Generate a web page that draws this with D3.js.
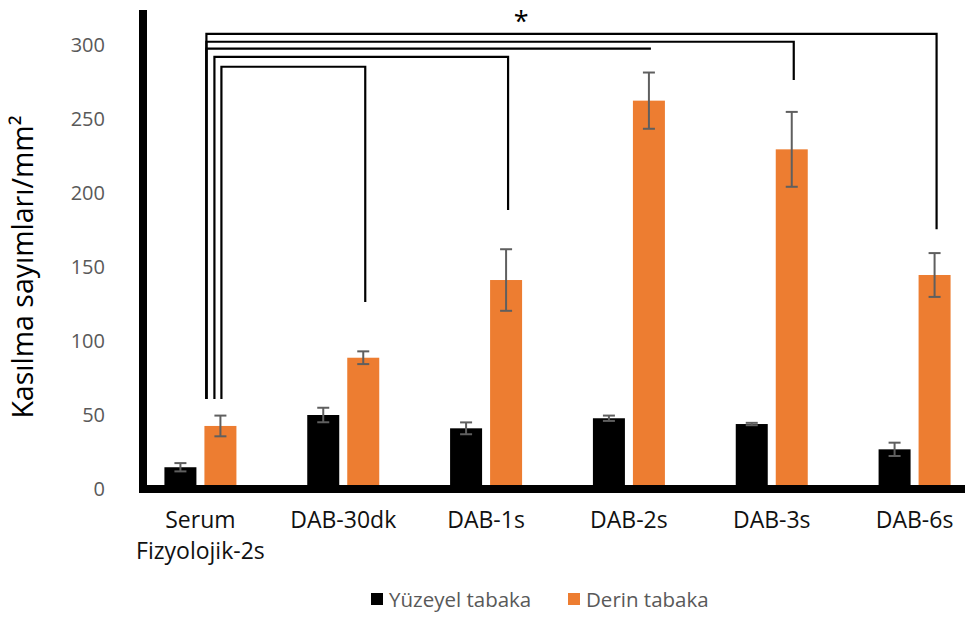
<!DOCTYPE html>
<html>
<head>
<meta charset="utf-8">
<script src="https://cdn.jsdelivr.net/npm/d3@7"></script>
<style>
  html, body { margin: 0; padding: 0; background: #fff; }
  svg { display: block; font-family: "Open Sans", "Noto Sans", sans-serif; }
</style>
</head>
<body>
<svg id="chart" width="965" height="617"></svg>
<script>
// Groups and the two layers measured in each
const categories = ["Serum\nFizyolojik-2s", "DAB-30dk", "DAB-1s", "DAB-2s", "DAB-3s", "DAB-6s"];
const seriesNames = ["Yüzeyel tabaka", "Derin tabaka"];
const seriesColors = ["#000000", "#ED7D31"];

// Mean counts per mm² and their error margins
const yuzeyelValues = [14.7, 50.0, 41.0, 47.8, 43.9, 26.8];
const yuzeyelErrors = [2.8, 4.9, 4.0, 1.8, 0.8, 4.5];
const derinValues = [42.6, 88.7, 141.2, 262.4, 229.5, 144.6];
const derinErrors = [7.0, 4.3, 20.8, 19.0, 25.3, 14.8];

const yTicks = [0, 50, 100, 150, 200, 250, 300];

// Significance brackets from the control (deep layer) to each treated group
// level: height of the horizontal run, drop: where the right leg stops (null = no leg), lane: left leg
const brackets = [
  { target: "DAB-6s",   level: 307.5, drop: 175.5, lane: 0 },
  { target: "DAB-3s",   level: 302.2, drop: 276.4, lane: 0 },
  { target: "DAB-2s",   level: 297.5, drop: null,  lane: 0 },
  { target: "DAB-1s",   level: 292.0, drop: 188.5, lane: 1 },
  { target: "DAB-30dk", level: 285.3, drop: 126.4, lane: 2 }
];
const bracketFoot = 60.8;

const svg = d3.select("#chart");

const x = d3.scaleBand().domain(categories).range([129, 986]).paddingInner(0).paddingOuter(0);
const y = d3.scaleLinear().domain([0, 300]).range([489, 45]);
const xSub = d3.scaleBand().domain(seriesNames).range([-36, 36]).paddingInner(0.2);

const center = c => x(c) + x.bandwidth() / 2;

const rows = categories.map((c, i) => [
  { cat: c, s: seriesNames[0], v: yuzeyelValues[i], e: yuzeyelErrors[i], color: seriesColors[0] },
  { cat: c, s: seriesNames[1], v: derinValues[i], e: derinErrors[i], color: seriesColors[1] }
]).flat();

// Bars
svg.append("g").selectAll("rect").data(rows).join("rect")
  .attr("x", d => center(d.cat) + xSub(d.s))
  .attr("y", d => y(d.v))
  .attr("width", xSub.bandwidth())
  .attr("height", d => y(0) - y(d.v))
  .attr("fill", d => d.color);

// Error bars
const eb = svg.append("g").attr("stroke", "#5f5f5f").attr("stroke-width", 2).attr("fill", "none");
rows.forEach(d => {
  const cx = center(d.cat) + xSub(d.s) + xSub.bandwidth() / 2;
  const top = y(d.v + d.e), bot = y(d.v - d.e);
  eb.append("line").attr("x1", cx).attr("x2", cx).attr("y1", top).attr("y2", bot);
  eb.append("line").attr("x1", cx - 6).attr("x2", cx + 6).attr("y1", top).attr("y2", top);
  eb.append("line").attr("x1", cx - 6).attr("x2", cx + 6).attr("y1", bot).attr("y2", bot);
});

// Axes lines (thick)
svg.append("line").attr("x1", 143).attr("x2", 143).attr("y1", 10).attr("y2", 493)
  .attr("stroke", "#000").attr("stroke-width", 8);
svg.append("line").attr("x1", 139).attr("x2", 965).attr("y1", y(0)).attr("y2", y(0))
  .attr("stroke", "#000").attr("stroke-width", 8);

// Y tick labels
const yAxis = d3.axisLeft(y).tickValues(yTicks).tickSize(0).tickPadding(0);
const yg = svg.append("g").attr("transform", "translate(105,0)").call(yAxis);
yg.select(".domain").remove();
yg.selectAll("text").attr("fill", "#595959").attr("font-size", 20)
  .attr("font-family", "'Open Sans', sans-serif");

// Y title
svg.append("text")
  .attr("transform", `translate(33,267) rotate(-90)`)
  .attr("text-anchor", "middle")
  .attr("font-size", 28.5)
  .attr("fill", "#000")
  .text("Kasılma sayımları/mm²");

// X category labels (one text per line)
const xl = svg.append("g");
categories.forEach(c => {
  c.split("\n").forEach((ln, i) => {
    xl.append("text").attr("text-anchor", "middle").attr("font-size", 23).attr("fill", "#111")
      .attr("x", center(c)).attr("y", 528 + i * 31).text(ln);
  });
});

// Significance brackets
const orangeX = c => center(c) + xSub(seriesNames[1]) + xSub.bandwidth() / 2;
const laneX = [orangeX(categories[0]) - 14, orangeX(categories[0]) - 6, orangeX(categories[0]) + 1];
const bg = svg.append("g").attr("stroke", "#000").attr("stroke-width", 2.2).attr("fill", "none");
brackets.forEach(b => {
  const lx = laneX[b.lane];
  const rx = orangeX(b.target) + 2;
  let p = `M${lx},${y(bracketFoot)} V${y(b.level)} H${rx}`;
  if (b.drop !== null) p += ` V${y(b.drop)}`;
  bg.append("path").attr("d", p);
});
svg.append("text").attr("x", orangeX("DAB-1s") + 15).attr("y", 31)
  .attr("text-anchor", "middle").attr("font-size", 27).attr("fill", "#000").text("*");

// Legend
const leg = svg.append("g").attr("font-size", 20.5).attr("fill", "#595959");
const legItems = [
  { name: seriesNames[0], color: seriesColors[0], x: 371 },
  { name: seriesNames[1], color: seriesColors[1], x: 568 }
];
legItems.forEach(it => {
  leg.append("rect").attr("x", it.x).attr("y", 593).attr("width", 12).attr("height", 12).attr("fill", it.color);
  leg.append("text").attr("x", it.x + 18).attr("y", 607).attr("fill", "#595959").text(it.name);
});
</script>
</body>
</html>
